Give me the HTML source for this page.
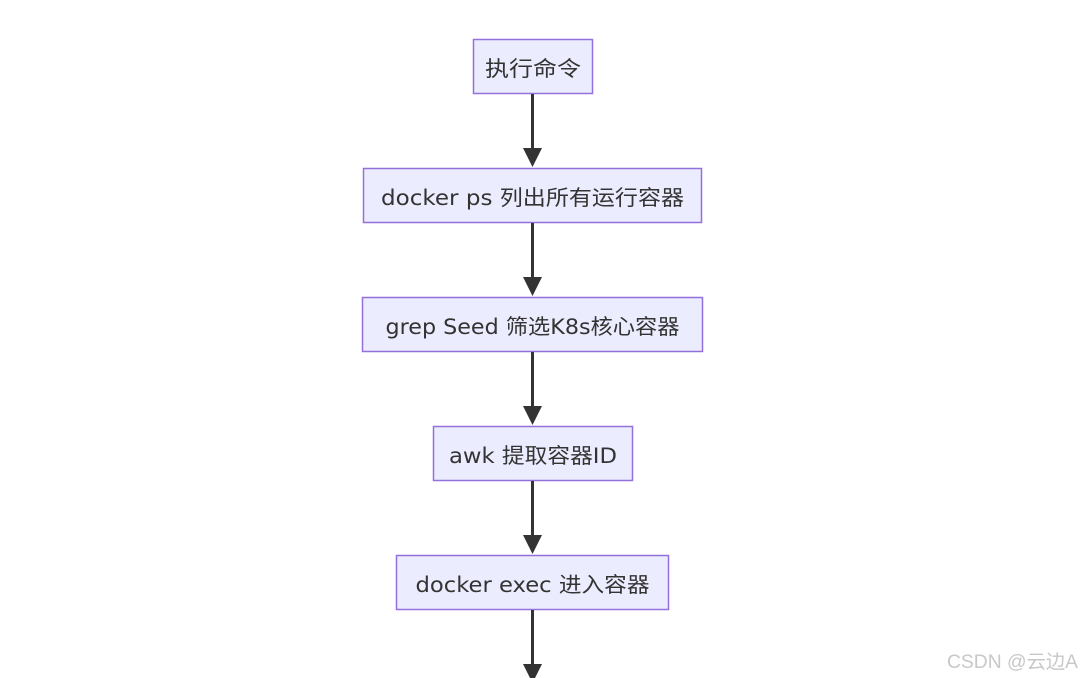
<!DOCTYPE html>
<html><head><meta charset="utf-8"><style>
html,body{margin:0;padding:0;background:#fff;}
svg{display:block}
text{font-family:"DejaVu Sans","Noto Sans CJK SC",sans-serif;font-size:21px;fill:#333;}
</style></head><body>
<svg width="1081" height="678" viewBox="0 0 1081 678">
<g fill="#ececff" stroke="#9370db" stroke-width="1.5">
<rect x="473.5" y="39.5" width="119" height="54"/>
<rect x="363.5" y="168.5" width="338" height="54"/>
<rect x="362.5" y="297.5" width="340" height="54"/>
<rect x="433.5" y="426.5" width="199" height="54"/>
<rect x="396.5" y="555.5" width="272" height="54"/>
</g>
<g stroke="#333" stroke-width="3">
<line x1="532.5" y1="94" x2="532.5" y2="150"/>
<line x1="532.5" y1="223" x2="532.5" y2="279"/>
<line x1="532.5" y1="352" x2="532.5" y2="408"/>
<line x1="532.5" y1="481" x2="532.5" y2="537"/>
<line x1="532.5" y1="610" x2="532.5" y2="666"/>
</g>
<g fill="#333">
<polygon points="523,148 542,148 532.5,167"/>
<polygon points="523,277 542,277 532.5,296"/>
<polygon points="523,406 542,406 532.5,425"/>
<polygon points="523,535 542,535 532.5,554"/>
<polygon points="523,664 542,664 532.5,683"/>
</g>
<g text-anchor="middle">
<text x="533" y="76" textLength="96" lengthAdjust="spacingAndGlyphs">执行命令</text>
<text x="532.5" y="205" textLength="303" lengthAdjust="spacingAndGlyphs">docker ps 列出所有运行容器</text>
<text x="532.5" y="334" textLength="294" lengthAdjust="spacingAndGlyphs">grep Seed 筛选K8s核心容器</text>
<text x="533" y="463" textLength="168" lengthAdjust="spacingAndGlyphs">awk 提取容器ID</text>
<text x="532.5" y="592" textLength="234" lengthAdjust="spacingAndGlyphs">docker exec 进入容器</text>
</g>
<text x="947" y="668" style="font-family:'Liberation Sans','Noto Sans CJK SC',sans-serif;font-size:19px;fill:#c8c8c8" textLength="131" lengthAdjust="spacingAndGlyphs">CSDN @云边A</text>
</svg>
</body></html>
